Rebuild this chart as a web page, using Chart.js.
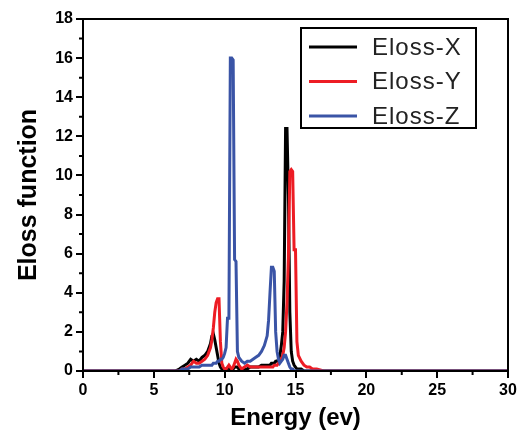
<!DOCTYPE html>
<html>
<head>
<meta charset="utf-8">
<script src="https://cdn.jsdelivr.net/npm/chart.js@4.4.1/dist/chart.umd.min.js"></script>
<style>
  body { margin: 0; background: #fff; }
  #wrap { width: 522px; height: 435px; }
</style>
</head>
<body>
<div id="wrap"><canvas id="elossChart"></canvas></div>
<script>
// energy grid (eV), shared by the three curves
const energy = [0, 6.5, 6.8, 7.0, 7.2, 7.4, 7.6, 7.8, 8.0, 8.2, 8.4, 8.6, 8.8, 9.0, 9.1, 9.2, 9.3, 9.4, 9.5, 9.6,
  9.7, 9.8, 9.9, 10.0, 10.1, 10.2, 10.3, 10.4, 10.5, 10.6, 10.7, 10.8, 10.9, 11.0, 11.2, 11.4, 11.6, 11.8, 12.0, 12.2,
  12.4, 12.6, 12.8, 13.0, 13.1, 13.2, 13.3, 13.4, 13.5, 13.6, 13.7, 13.8, 13.9, 14.0, 14.1, 14.2, 14.3, 14.4, 14.5, 14.6,
  14.7, 14.8, 14.9, 15.0, 15.1, 15.2, 15.4, 15.6, 15.8, 16.0, 16.2, 16.5, 17, 30];

const elossX = [0, 0, 0.1, 0.2, 0.3, 0.4, 0.6, 0.5, 0.6, 0.5, 0.7, 0.8, 1.0, 1.4, 1.8, 1.9, 1.6, 1.2, 0.8, 0.4,
  0.2, 0.1, 0.1, 0.1, 0.1, 0.1, 0.2, 0.1, 0.1, 0.1, 0.2, 0.2, 0.2, 0.1, 0.1, 0.1, 0.1, 0.2, 0.2, 0.2,
  0.2, 0.3, 0.3, 0.3, 0.3, 0.3, 0.4, 0.4, 0.4, 0.5, 0.5, 0.6, 0.8, 1.3, 2.0, 4.6, 12.4, 12.4, 9.0, 3.0,
  1.0, 0.5, 0.3, 0.2, 0.1, 0.1, 0.1, 0, 0, 0, 0, 0, 0, 0];

const elossY = [0, 0, 0, 0.1, 0.1, 0.2, 0.3, 0.5, 0.4, 0.4, 0.5, 0.6, 0.8, 1.2, 1.6, 2.2, 3.0, 3.5, 3.7, 3.7,
  1.5, 0.4, 0.2, 0.1, 0.1, 0.2, 0.3, 0.2, 0.1, 0.2, 0.4, 0.6, 0.5, 0.3, 0.1, 0.2, 0.3, 0.2, 0.2, 0.2,
  0.2, 0.2, 0.2, 0.2, 0.2, 0.2, 0.2, 0.2, 0.3, 0.3, 0.3, 0.4, 0.5, 0.6, 0.8, 1.2, 2.0, 3.5, 5.8, 10.2,
  10.3, 10.2, 6.2, 6.2, 1.5, 0.8, 0.5, 0.3, 0.2, 0.2, 0.1, 0.1, 0, 0];

const elossZ = [0, 0, 0, 0.1, 0.1, 0.1, 0.2, 0.2, 0.2, 0.2, 0.3, 0.3, 0.3, 0.3, 0.3, 0.4, 0.4, 0.4, 0.5, 0.5,
  0.6, 0.6, 0.7, 0.9, 1.2, 2.7, 2.7, 16.0, 16.0, 15.9, 5.7, 5.6, 1.0, 0.7, 0.5, 0.4, 0.5, 0.5, 0.6, 0.7,
  0.8, 1.0, 1.3, 1.8, 2.6, 4.0, 5.3, 5.3, 5.1, 2.0, 1.0, 0.6, 0.4, 0.5, 0.6, 0.8, 0.8, 0.6, 0.4, 0.2,
  0.1, 0.1, 0, 0, 0, 0, 0, 0, 0, 0, 0, 0, 0, 0];

const seriesNames = ['Eloss-X', 'Eloss-Y', 'Eloss-Z'];
const seriesColors = ['#000000', '#ed1c24', '#3a54a6'];
const xTicks = [0, 5, 10, 15, 20, 25, 30];
const yTicks = [0, 2, 4, 6, 8, 10, 12, 14, 16, 18];

function pairs(ys) {
    return energy.map((e, i) => ({ x: e, y: ys[i] }));
}

// frame, minor ticks and the boxed legend inside the plot
const framePlugin = {
    id: 'frame',
    afterDraw(chart) {
        const ctx = chart.ctx;
        const a = chart.chartArea;
        const xs = chart.scales.x, ys = chart.scales.y;
        ctx.save();
        ctx.strokeStyle = '#000';
        ctx.lineWidth = 2;
        ctx.strokeRect(a.left, a.top, a.right - a.left, a.bottom - a.top);
        ctx.beginPath();
        for (let v = 2.5; v < 30; v += 5) {
            const px = xs.getPixelForValue(v);
            ctx.moveTo(px, a.bottom);
            ctx.lineTo(px, a.bottom + 4);
        }
        for (let v = 1; v < 18; v += 2) {
            const py = ys.getPixelForValue(v);
            ctx.moveTo(a.left, py);
            ctx.lineTo(a.left - 4, py);
        }
        ctx.stroke();

        // legend box
        const bx = a.left + 218, by = a.top + 9;
        ctx.lineWidth = 2;
        ctx.strokeRect(bx, by, 175, 100);
        ctx.font = '24px "Liberation Sans", Arial, sans-serif';
        ctx.letterSpacing = '1px';
        ctx.textBaseline = 'middle';
        chart.data.datasets.forEach((ds, i) => {
            const ly = by + 19 + i * 34.5;
            ctx.strokeStyle = ds.borderColor;
            ctx.lineWidth = 3;
            ctx.beginPath();
            ctx.moveTo(bx + 8, ly);
            ctx.lineTo(bx + 56, ly);
            ctx.stroke();
            ctx.fillStyle = '#222';
            ctx.fillText(ds.label, bx + 71, ly + 1);
        });
        ctx.restore();
    }
};

new Chart(document.getElementById('elossChart'), {
    type: 'line',
    data: {
        datasets: [
            { label: seriesNames[0], data: pairs(elossX), borderColor: seriesColors[0], order: 3 },
            { label: seriesNames[1], data: pairs(elossY), borderColor: seriesColors[1], order: 2 },
            { label: seriesNames[2], data: pairs(elossZ), borderColor: seriesColors[2], order: 1 }
        ]
    },
    options: {
        responsive: true,
        maintainAspectRatio: false,
        animation: false,
        elements: {
            point: { radius: 0 },
            line: { borderWidth: 3, tension: 0, borderJoinStyle: 'miter' }
        },
        layout: { padding: { top: 19, right: 14, left: 0, bottom: 0 } },
        plugins: {
            legend: { display: false },
            tooltip: { enabled: false }
        },
        scales: {
            x: {
                type: 'linear',
                min: 0,
                max: 30,
                afterBuildTicks: s => { s.ticks = xTicks.map(v => ({ value: v })); },
                afterFit: s => { s.height = 64; },
                grid: { drawOnChartArea: false, tickLength: 7, color: '#000', lineWidth: 2 },
                border: { color: '#000', width: 2 },
                ticks: { color: '#000', padding: 3, font: { family: 'Arial, "Liberation Sans", sans-serif', size: 16, weight: 'bold' } },
                title: {
                    display: true,
                    text: 'Energy (ev)',
                    color: '#000',
                    padding: { top: 0, bottom: 2 },
                    font: { family: 'Arial, "Liberation Sans", sans-serif', size: 24, weight: 'bold' }
                }
            },
            y: {
                type: 'linear',
                min: 0,
                max: 18,
                afterBuildTicks: s => { s.ticks = yTicks.map(v => ({ value: v })); },
                afterFit: s => { s.width = 83; },
                grid: { drawOnChartArea: false, tickLength: 7, color: '#000', lineWidth: 2 },
                border: { color: '#000', width: 2 },
                ticks: { color: '#000', padding: 3, font: { family: 'Arial, "Liberation Sans", sans-serif', size: 16, weight: 'bold' } },
                title: {
                    display: true,
                    text: 'Eloss function',
                    color: '#000',
                    padding: { top: 14, bottom: 0 },
                    font: { family: 'Arial, "Liberation Sans", sans-serif', size: 25, weight: 'bold' }
                }
            }
        }
    },
    plugins: [framePlugin]
});
</script>
</body>
</html>
